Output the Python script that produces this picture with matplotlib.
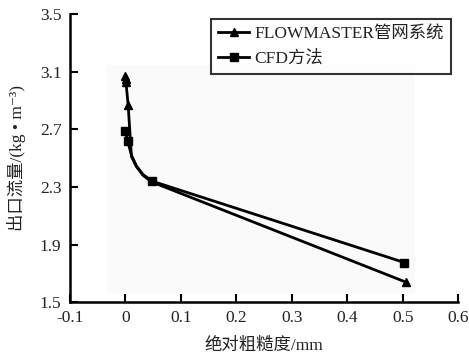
import matplotlib.pyplot as plt
from matplotlib.patches import Rectangle

plt.rcParams['font.family'] = ['Liberation Serif', 'Noto Sans CJK SC', 'DejaVu Sans']
plt.rcParams['axes.unicode_minus'] = False

fm_x = [0.0, 0.0005, 0.001, 0.005, 0.011, 0.020, 0.032, 0.047, 0.505]
fm_y = [3.07, 3.05, 3.03, 2.87, 2.51, 2.44, 2.38, 2.335, 1.64]
fm_marks = [0, 1, 2, 3, 8]

# CFD方法
cfd_x = [0.0, 0.004, 0.011, 0.020, 0.032, 0.048, 0.503]
cfd_y = [2.69, 2.62, 2.52, 2.445, 2.385, 2.34, 1.775]
cfd_marks = [0, 1, 5, 6]

xticks = [-0.1, 0, 0.1, 0.2, 0.3, 0.4, 0.5, 0.6]
xlabels = ['-0.1', '0', '0.1', '0.2', '0.3', '0.4', '0.5', '0.6']
yticks = [1.5, 1.9, 2.3, 2.7, 3.1, 3.5]

fig = plt.figure(figsize=(4.69, 3.58), dpi=100)
ax = fig.add_axes([0.149, 0.156, 0.828, 0.805])

# faint plot-area fill
ax.add_patch(Rectangle((107 / 469, 1 - 293 / 358), (415 - 107) / 469, (293 - 65) / 358,
                       transform=fig.transFigure, facecolor='#fafafa',
                       edgecolor='none', zorder=0))

ax.plot(fm_x, fm_y, color='black', lw=2, marker='^', markersize=6,
        markevery=fm_marks, label='FLOWMASTER管网系统', zorder=3)
ax.plot(cfd_x, cfd_y, color='black', lw=2, marker='s', markersize=6,
        markevery=cfd_marks, label='CFD方法', zorder=3)

ax.set_xlim(-0.1, 0.6)
ax.set_ylim(1.5, 3.5)
ax.set_xticks(xticks)
ax.set_xticklabels(xlabels)
ax.set_yticks(yticks)
ax.tick_params(direction='in', length=6, width=1.5, labelsize=12.5, pad=6,
               labelcolor='#222222')

for s in ['top', 'right']:
    ax.spines[s].set_visible(False)
for s in ['left', 'bottom']:
    ax.spines[s].set_linewidth(1.8)

ax.set_xlabel('绝对粗糙度/mm', fontsize=12.5, labelpad=8, color='#222222')
ax.set_ylabel('出口流量/(kg • m⁻³)', fontsize=12.5, labelpad=10, color='#222222')

leg = ax.legend(loc='upper left', bbox_to_anchor=(211 / 469, 1 - 19 / 358),
                bbox_transform=fig.transFigure, fontsize=12.5, frameon=True,
                fancybox=False, handlelength=1.8, borderpad=0.4, labelspacing=0.5,
                handletextpad=0.3, borderaxespad=0)
leg.get_frame().set_edgecolor('black')
leg.get_frame().set_linewidth(1.5)
for t in leg.get_texts():
    t.set_color('#222222')

fig.savefig('out.png', dpi=100)
